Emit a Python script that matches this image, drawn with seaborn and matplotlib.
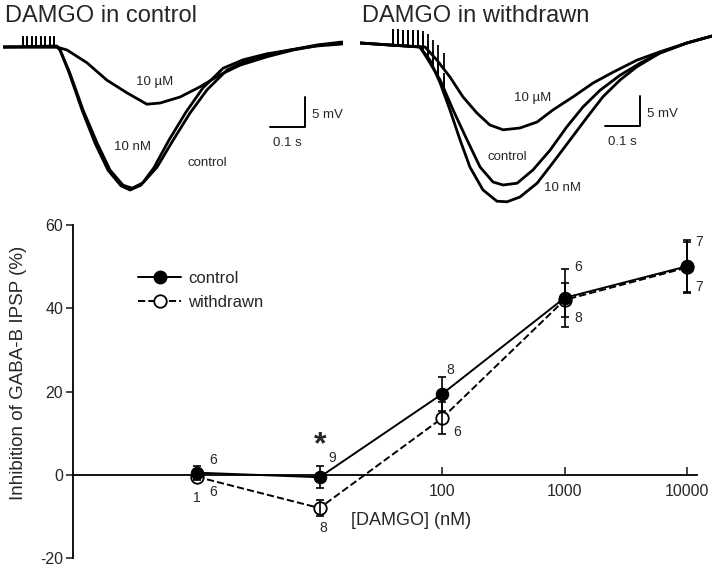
import numpy as np
import matplotlib
matplotlib.use("Agg")
import matplotlib.pyplot as plt
import seaborn as sb
from matplotlib.lines import Line2D
from matplotlib.ticker import NullLocator, FixedLocator, FixedFormatter

sb.set_style("white")
plt.rcParams['font.family'] = ['Liberation Sans', 'DejaVu Sans']
plt.rcParams['axes.unicode_minus'] = False

# ---- traces, DAMGO in control (time ms, potential mV) ----
ctl_t_ctl = [0, 57, 154, 163, 191, 229, 269, 306, 343, 369, 400, 440, 486, 534, 583, 640, 686, 754, 820, 897, 969]
ctl_v_ctl = [-0.17, -0.17, -0.17, -0.67, -4.5, -10.7, -16.2, -20.7, -23.2, -23.7, -22.8, -20.2, -15.7, -11.2,
             -7.3, -4.0, -2.7, -1.5, -0.67, 0.17, 0.67]
ctl_t_10n = [0, 154, 163, 189, 226, 263, 300, 337, 363, 394, 431, 474, 523, 571, 629, 686, 754, 820, 897, 969]
ctl_v_10n = [-0.17, 0, -0.67, -4.5, -10.7, -16.2, -20.7, -23.3, -24.0, -23.2, -20.3, -15.7, -11.0, -7.0,
             -3.7, -2.3, -1.3, -0.67, 0, 0.33]
ctl_t_10u = [0, 57, 154, 183, 240, 297, 354, 411, 449, 506, 563, 620, 677, 754, 829, 906, 969]
ctl_v_10u = [-0.17, -0.17, -0.17, -0.67, -2.8, -5.7, -7.8, -9.7, -9.5, -8.5, -6.8, -4.8, -3.2, -1.8,
             -0.67, 0.17, 0.5]
ctl_stim = [57, 69, 83, 94, 109, 120, 134, 146]

# ---- traces, DAMGO in withdrawn ----
wd_t_10n = [0, 86, 171, 200, 229, 257, 286, 314, 351, 391, 420, 457, 506, 551, 600, 649, 694, 743, 791, 857, 934, 1006]
wd_v_10n = [0.17, -0.17, -0.5, -2.7, -6.5, -11.0, -16.0, -20.5, -24.3, -26.2, -26.3, -25.5, -23.2, -19.8,
            -16.0, -12.2, -8.8, -6.0, -3.8, -1.5, 0.17, 1.33]
wd_t_ctl = [0, 86, 171, 191, 229, 266, 306, 343, 380, 409, 449, 494, 543, 591, 637, 686, 743, 800, 857, 934, 1006]
wd_v_ctl = [0.17, -0.17, -0.5, -2.3, -6.0, -11.0, -16.0, -20.5, -23.0, -23.5, -23.2, -21.0, -17.7, -13.8,
            -10.5, -7.7, -5.2, -3.2, -1.5, 0.17, 1.33]
wd_t_10u = [0, 86, 186, 220, 257, 294, 334, 371, 409, 457, 506, 551, 609, 666, 723, 791, 857, 934, 1006]
wd_v_10u = [0.17, -0.17, -0.5, -2.7, -5.5, -8.8, -11.5, -13.5, -14.3, -14.0, -13.0, -11.0, -8.8, -6.5,
            -4.7, -2.7, -1.3, 0.17, 1.33]
wd_stim = [94, 109, 123, 137, 151, 166, 180, 194, 209, 223, 240]

# ---- dose response ----
conc = [1, 10, 100, 1000, 10000]
control = [0.5, -0.6, 19.4, 42.5, 50.1]
control_err = [1.5, 2.7, 4.0, 7.0, 6.2]
withdrawn = [-0.5, -8.0, 13.6, 42.0, 49.8]
withdrawn_err = [0.8, 2.0, 3.8, 4.0, 6.2]
n_labels = ['6', '6', '1', '9', '8', '8', '6', '6', '8', '7', '7']

W, H = 720, 568
fig = plt.figure(figsize=(W / 100, H / 100), dpi=100)


def trace_panel(x0, x1, base, traces, stim, spike_h, labels, bar, title):
    ax = fig.add_axes([x0 / W, 1 - 215 / H, (x1 - x0) / W, 215 / H])
    for t, v in traces:
        sb.lineplot(x=t, y=v, ax=ax, color='black', lw=2.0, estimator=None, sort=False)
        # stimulus artefacts ride on each sweep
        sv = np.interp(stim, t, v)
        ax.vlines(stim, sv, sv + spike_h, color='black', lw=1.3)
    for txt, tx, ty in labels:
        ax.text(tx, ty, txt, fontsize=9.5, ha='center', va='center')
    bx, by = bar
    ax.plot([bx - 100, bx, bx], [by, by, by + 5], color='black', lw=1.4)
    ax.text(bx + 20, by + 2, '5 mV', fontsize=9.5, ha='left', va='center')
    ax.text(bx - 50, by - 2.7, '0.1 s', fontsize=9.5, ha='center', va='center')
    ax.set_xlim(0, (x1 - x0) / 0.35)
    ax.set_ylim((base - 215) / 6, base / 6)
    ax.axis('off')
    fig.text((x0 + 2) / W, 1 - 16 / H, title, fontsize=17, ha='left', va='center')


trace_panel(3, 343, 46,
            [(ctl_t_ctl, ctl_v_ctl), (ctl_t_10n, ctl_v_10n), (ctl_t_10u, ctl_v_10u)],
            ctl_stim, 1.7,
            [('10 \u00b5M', 434, -6.0), ('10 nM', 369, -16.8), ('control', 583, -19.5)],
            (863, -13.5), 'DAMGO in control')
trace_panel(360, 712, 44,
            [(wd_t_10n, wd_v_10n), (wd_t_ctl, wd_v_ctl), (wd_t_10u, wd_v_10u)],
            wd_stim, 2.7,
            [('10 \u00b5M', 494, -9.0), ('control', 420, -18.8), ('10 nM', 580, -24.0)],
            (800, -13.7), 'DAMGO in withdrawn')

# ---- bottom dose-response panel ----
ax = fig.add_axes([73 / W, 10 / H, 624 / W, 333 / H])
ax.set_xscale('log')
sb.lineplot(x=conc, y=withdrawn, ax=ax, color='black', lw=1.4, linestyle='--',
            marker='o', markersize=9, markerfacecolor='white', markeredgecolor='black',
            markeredgewidth=1.3, estimator=None, sort=False)
ax.errorbar(conc, withdrawn, yerr=withdrawn_err, fmt='none', ecolor='black', elinewidth=1.2,
            capsize=3, capthick=1.2)
sb.lineplot(x=conc, y=control, ax=ax, color='black', lw=1.4, marker='o', markersize=9,
            markerfacecolor='black', markeredgecolor='black', estimator=None, sort=False)
ax.errorbar(conc, control, yerr=control_err, fmt='none', ecolor='black', elinewidth=1.2,
            capsize=3, capthick=1.2)

ax.set_xlim(10 ** -1.012, 10 ** 4.08)
ax.set_ylim(-20, 60)
for s in ['top', 'right']:
    ax.spines[s].set_visible(False)
ax.spines['bottom'].set_position(('data', 0))
for s in ['left', 'bottom']:
    ax.spines[s].set_linewidth(1.3)
    ax.spines[s].set_color('black')
ax.xaxis.set_major_locator(FixedLocator([100, 1000, 10000]))
ax.xaxis.set_major_formatter(FixedFormatter(['100', '1000', '10000']))
ax.xaxis.set_minor_locator(NullLocator())
ax.set_yticks([-20, 0, 20, 40, 60])
ax.tick_params(axis='x', direction='in', length=6, width=1.2, labelsize=11.5, pad=7, bottom=True)
ax.tick_params(axis='y', direction='out', length=5, width=1.2, labelsize=11.5, pad=2, left=True)
ax.set_ylabel('Inhibition of GABA-B IPSP (%)', fontsize=13.5)
ax.yaxis.set_label_coords(-0.074, 0.556)
ax.set_xlabel('')
ax.text(0.542, 0.114, '[DAMGO] (nM)', transform=ax.transAxes, fontsize=13, ha='center', va='center')

# n values and significance mark
n_pos = [(1.35, 3.6), (1.35, -4.1), (1.0, -5.5), (12.6, 4.0), (10.7, -12.7), (116, 25.2),
         (133, 10.3), (1296, 49.8), (1296, 37.7), (12460, 56.0), (12460, 45.2)]
for lab, (nx, ny) in zip(n_labels, n_pos):
    ax.text(nx, ny, lab, fontsize=10, ha='center', va='center')
ax.text(10.2, 7.0, '*', fontsize=23, fontweight='bold', ha='center', va='center')

handles = [Line2D([], [], color='black', lw=1.4, marker='o', markersize=9, markerfacecolor='black'),
           Line2D([], [], color='black', lw=1.4, ls='--', marker='o', markersize=9,
                  markerfacecolor='white', markeredgewidth=1.3)]
ax.legend(handles, ['control', 'withdrawn'], loc='upper left', frameon=False, fontsize=12,
          handlelength=2.6, handletextpad=0.4, labelspacing=0.55, borderpad=0, borderaxespad=0,
          bbox_to_anchor=(138 / W, 1 - 271 / H), bbox_transform=fig.transFigure)

fig.savefig('out.png', dpi=100)
